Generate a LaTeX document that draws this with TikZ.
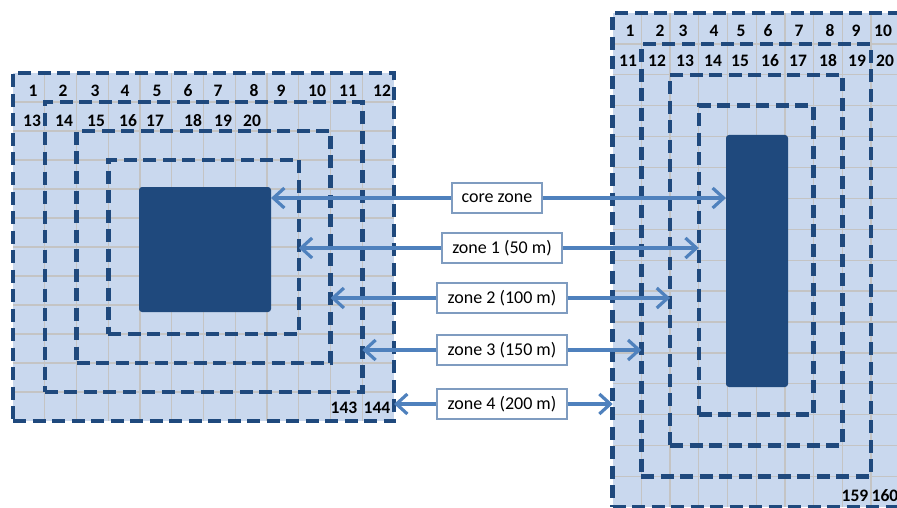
\documentclass[tikz,border=0pt]{standalone}
\usepackage{fontspec}
\setmainfont{Carlito}
\usetikzlibrary{arrows.meta}
\definecolor{cellfill}{HTML}{C9D8EE}
\definecolor{gridgray}{HTML}{C4C4C4}
\definecolor{zonedark}{HTML}{1F497D}
\definecolor{arrowblue}{HTML}{4F81BD}
\definecolor{boxborder}{HTML}{7F9CC0}
\tikzset{
  gridline/.style={draw=gridgray, line width=1.3pt},
  zonebox/.style={draw=zonedark, line width=4.5pt, dash pattern=on 13pt off 6.5pt,
    rectangle, inner sep=0pt, outer sep=0pt, anchor=north west},
  corebox/.style={fill=zonedark, rounded corners=3pt, rectangle, inner sep=0pt,
    outer sep=0pt, anchor=north west},
  numtext/.style={font=\fontsize{17.5pt}{18pt}\selectfont\bfseries, inner sep=0pt},
  zonelabel/.style={draw=boxborder, fill=white, line width=1.2pt,
    font=\fontsize{18pt}{20pt}\selectfont, minimum height=30pt, inner sep=0pt},
  biarrow/.style={draw=arrowblue, line width=3.2pt,
    -{Straight Barb[length=11pt,width=20pt]}},
}
\begin{document}
\begin{tikzpicture}[x=1pt,y=-1pt]
\useasboundingbox (0,0) rectangle (897,508);
\begin{scope}
\clip (0,0) rectangle (897,508);
% ---------- left grid ----------
\fill[cellfill] (13,73) rectangle (394,421);
\foreach \i in {1,...,11}{
  \draw[gridline] (13+\i*31.75,73) -- ++(0,348);
  \draw[gridline] (13,73+\i*29) -- ++(381,0);
}
% ---------- right grid ----------
\fill[cellfill] (612.7,13) rectangle (899.7,507.4);
\foreach \i in {1,...,9}{
  \draw[gridline] (612.7+\i*28.7,13) -- ++(0,494.4);
}
\foreach \i in {1,...,15}{
  \draw[gridline] (612.7,13+\i*30.9) -- ++(287,0);
}
% ---------- cores ----------
\node[corebox, minimum width=132pt, minimum height=125pt] (coreL) at (139,187) {};
\node[corebox, minimum width=62pt, minimum height=252pt] (coreR) at (726,135) {};
% ---------- dashed zones left ----------
\node[zonebox, minimum width=381pt, minimum height=348pt] (outerL) at (13,73) {};
\node[zonebox, minimum width=317.5pt, minimum height=290pt] (zthreeL) at (44.75,102) {};
\node[zonebox, minimum width=254pt, minimum height=232pt] (ztwoL) at (76.5,131) {};
\node[zonebox, minimum width=190.5pt, minimum height=174pt] (zoneL) at (108.25,160) {};
% ---------- dashed zones right ----------
\node[zonebox, minimum width=287pt, minimum height=494.4pt] (outerR) at (612.7,13) {};
\node[zonebox, minimum width=229.6pt, minimum height=432.6pt] (zthreeR) at (641.4,43.9) {};
\node[zonebox, minimum width=172.2pt, minimum height=370.8pt] (ztwoR) at (670.1,74.8) {};
\node[zonebox, minimum width=114.8pt, minimum height=309pt] (zoneR) at (698.8,105.7) {};
% ---------- numbers left ----------
\foreach \n/\x in {1/33,2/63,3/95,4/125,5/157,6/188,7/218,8/254,9/281,10/317,11/348,12/382}{
  \node[numtext] (nl\n) at (\x,91) {\n};
}
\foreach \n/\x in {13/32,14/64,15/96,16/128,17/155,18/193,19/223,20/252}{
  \node[numtext] (nl\n) at (\x,121) {\n};
}
\node[numtext] (nl143) at (344,407.5) {143};
\node[numtext] (nl144) at (377,407.5) {144};
% ---------- numbers right ----------
\foreach \n/\x in {1/630,2/660,3/683,4/714,5/741,6/768,7/799,8/830,9/856,10/883}{
  \node[numtext] (nr\n) at (\x,31) {\n};
}
\foreach \n/\x in {11/628,12/657,13/685,14/713,15/740,16/770,17/798,18/828,19/857,20/885}{
  \node[numtext] (nr\n) at (\x,61) {\n};
}
\node[numtext] (nr159) at (855,496) {159};
\node[numtext] (nr160) at (885,496) {160};
\end{scope}
% ---------- labels ----------
\node[zonelabel, minimum width=90pt] (labc) at (497,198) {core zone};
\node[zonelabel, minimum width=120pt] (labone) at (502,248) {zone 1 (50 m)};
\node[zonelabel, minimum width=130pt] (labtwo) at (502,298) {zone 2 (100 m)};
\node[zonelabel, minimum width=130pt] (labthree) at (502,350) {zone 3 (150 m)};
\node[zonelabel, minimum width=130pt] (labfour) at (502,404) {zone 4 (200 m)};
% ---------- arrows ----------
\draw[biarrow] (labc.west) -- (coreL.east |- labc.west);
\draw[biarrow] (labc.east) -- (coreR.west |- labc.east);
\draw[biarrow] (labone.west) -- (zoneL.east |- labone.west);
\draw[biarrow] (labone.east) -- (zoneR.west |- labone.east);
\draw[biarrow] (labtwo.west) -- (ztwoL.east |- labtwo.west);
\draw[biarrow] (labtwo.east) -- (ztwoR.west |- labtwo.east);
\draw[biarrow] (labthree.west) -- (zthreeL.east |- labthree.west);
\draw[biarrow] (labthree.east) -- (zthreeR.west |- labthree.east);
\draw[biarrow] (labfour.west) -- (outerL.east |- labfour.west);
\draw[biarrow] (labfour.east) -- (outerR.west |- labfour.east);
\end{tikzpicture}
\end{document}
